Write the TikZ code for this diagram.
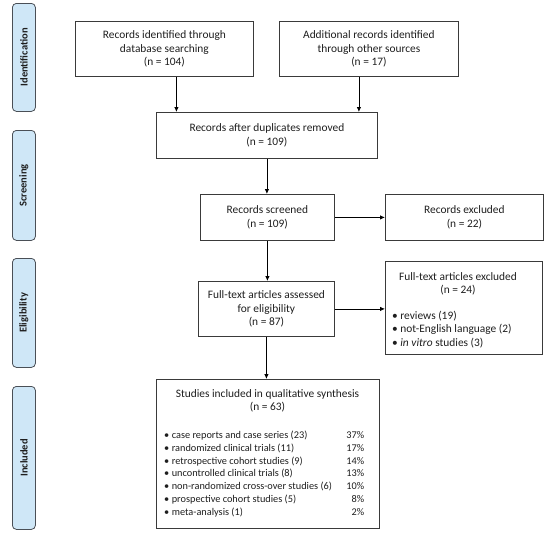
\documentclass[tikz,border=0pt]{standalone}
\usepackage{fontspec}
\setmainfont{Carlito}
\usetikzlibrary{arrows.meta,positioning}
\definecolor{phaseblue}{HTML}{CFE7F7}
\definecolor{phaseline}{HTML}{4A4F56}
\definecolor{boxline}{HTML}{3A3A3A}
\definecolor{inktext}{HTML}{1E1E1E}
\newcommand{\itm}{\textbullet\kern2.5pt}

\tikzset{
  box/.style={draw=boxline, line width=0.8pt, anchor=north west, inner sep=0pt, align=center, text=inktext},
  phase/.style={draw=phaseline, line width=0.8pt, fill=phaseblue, rounded corners=4pt, anchor=north west, inner sep=0pt},
  phaselabel/.style={rotate=90, font=\fontsize{10.5}{12}\selectfont\bfseries, text=inktext},
  listtext/.style={anchor=north west, inner sep=0pt, align=left, text=inktext},
  arr/.style={-{Latex[length=5pt,width=4.5pt]}, line width=0.8pt, draw=black},
}

\begin{document}
\begin{tikzpicture}[x=1pt, y=-1pt, every node/.style={font=\fontsize{11.4}{13.3}\selectfont}]
  \useasboundingbox (0,0) rectangle (550,533);

  % phase bars on the left
  \node[phase, minimum width=23, minimum height=108] (pid) at (12,3) {};
  \node[phase, minimum width=23, minimum height=110] (pscr) at (12,130) {};
  \node[phase, minimum width=23, minimum height=109] (pelig) at (12,258) {};
  \node[phase, minimum width=23, minimum height=143] (pincl) at (12,386) {};
  \node[phaselabel] (lid) at (pid.center) {Identification};
  \node[phaselabel] (lscr) at (pscr.center) {Screening};
  \node[phaselabel] (lelig) at (pelig.center) {Eligibility};
  \node[phaselabel] (lincl) at (pincl.center) {Included};

  % identification
  \node[box, minimum width=178, minimum height=55] (dbrec) at (75,21)
    {Records identified through\\database searching\\(n = 104)};
  \node[box, minimum width=179, minimum height=55] (otherrec) at (279,21)
    {Additional records identified\\through other sources\\(n = 17)};
  \node[box, minimum width=221, minimum height=46] (dedup) at (156,112)
    {Records after duplicates removed\\(n = 109)};

  % screening
  \node[box, minimum width=134, minimum height=46] (screened) at (200,194)
    {Records screened\\(n = 109)};
  \node[box, minimum width=158, minimum height=46] (excl) at (385,194)
    {Records excluded\\(n = 22)};

  % eligibility
  \node[box, minimum width=136, minimum height=55] (fulltext) at (198,281)
    {Full-text articles assessed\\for eligibility\\(n = 87)};
  \node[box, minimum width=157, minimum height=93] (ftexcl) at (385,261) {};
  \node[text=inktext, align=center, inner sep=0pt] (ftexclhead) at (458,283.5)
    {Full-text articles excluded\\(n = 24)};
  \node[listtext] (ftexcllist) at (392,311)
    {\itm reviews (19)\\
     \itm not-English language (2)\\
     \itm \textit{in vitro} studies (3)};

  % included
  \node[box, minimum width=223, minimum height=149] (incl) at (156,379) {};
  \node[text=inktext, align=center, inner sep=0pt] (inclhead) at (267.5,401)
    {Studies included in qualitative synthesis\\(n = 63)};
  \node[listtext, font=\fontsize{10.3}{12.9}\selectfont] (incllist) at (164,429)
    {\begin{tabular*}{200pt}{@{}l@{\extracolsep{\fill}}r@{}}
     \itm case reports and case series (23) & 37\% \\
     \itm randomized clinical trials (11) & 17\% \\
     \itm retrospective cohort studies (9) & 14\% \\
     \itm uncontrolled clinical trials (8) & 13\% \\
     \itm non-randomized cross-over studies (6) & 10\% \\
     \itm prospective cohort studies (5) & 8\% \\
     \itm meta-analysis (1) & 2\%
     \end{tabular*}};

  % connectors
  \draw[arr] ([xshift=12pt]dbrec.south) -- ([xshift=12pt]dbrec.south |- dedup.north);
  \draw[arr] ([xshift=-10pt]otherrec.south) -- ([xshift=-10pt]otherrec.south |- dedup.north);
  \draw[arr] (dedup.south) -- (dedup.south |- screened.north);
  \draw[arr] (screened.east) -- (screened.east -| excl.west);
  \draw[arr] (screened.south) -- (screened.south |- fulltext.north);
  \draw[arr] (fulltext.east) -- (fulltext.east -| ftexcl.west);
  \draw[arr] (fulltext.south) -- (fulltext.south |- incl.north);
\end{tikzpicture}
\end{document}
